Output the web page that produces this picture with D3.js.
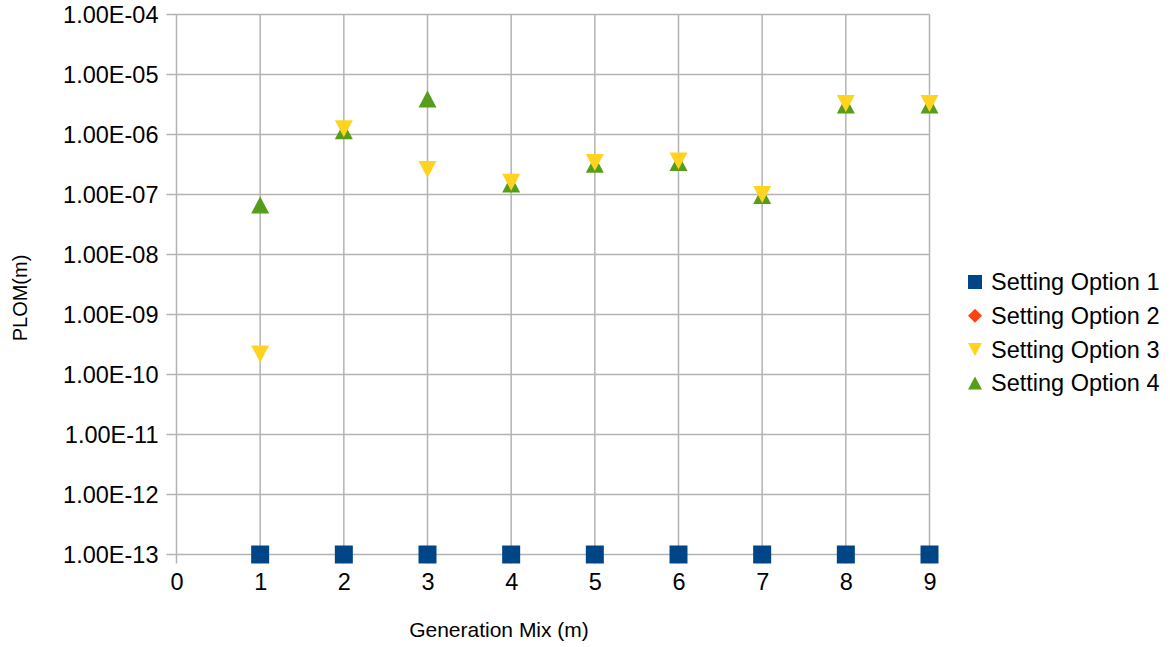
<!DOCTYPE html>
<html><head><meta charset="utf-8">
<script src="https://cdn.jsdelivr.net/npm/d3@7"></script>
<style>body{margin:0;background:#fff}svg{display:block}text{font-family:"Liberation Sans",Arial,sans-serif;fill:#000}</style>
</head><body><svg id="c" width="1170" height="647"></svg>
<script>
const xCats = [1,2,3,4,5,6,7,8,9];
const xTicks = [0,1,2,3,4,5,6,7,8,9];
const yTicks = [1e-4,1e-5,1e-6,1e-7,1e-8,1e-9,1e-10,1e-11,1e-12,1e-13];
const seriesNames = ["Setting Option 1","Setting Option 2","Setting Option 3","Setting Option 4"];
const opt1 = [1e-13,1e-13,1e-13,1e-13,1e-13,1e-13,1e-13,1e-13,1e-13];
const opt2 = [1e-13,1e-13,1e-13,1e-13,1e-13,1e-13,1e-13,1e-13,1e-13];
const opt3 = [2.2e-10,1.25e-6,2.6e-7,1.6e-7,3.4e-7,3.6e-7,1.0e-7,3.3e-6,3.3e-6];
const opt4 = [6.7e-8,1.15e-6,3.9e-6,1.5e-7,3.2e-7,3.4e-7,9.6e-8,3.1e-6,3.1e-6];
const colors = ["#004586","#ff420e","#ffd320","#579d1c"];
const shapes = ["square","diamond","down","up"];

const svg = d3.select("#c");
const L=176.5, R=929.5, T=14.5, B=554.5;
const x = d3.scaleLinear().domain([0,9]).range([L,R]);
const y = d3.scaleLog().domain([1e-13,1e-4]).range([B,T]);

function sym(shape){
  if(shape==="square") return "M-9,-9H9V9H-9Z";
  if(shape==="diamond") return "M0,-8L8,0L0,8L-8,0Z";
  if(shape==="down") return "M-9,-8.5H9L0,8.5Z";
  return "M0,-8.5L9,8.5H-9Z";
}

// grid
const g = svg.append("g");
g.selectAll("line.h").data(yTicks).join("line")
  .attr("x1",L-10).attr("x2",R).attr("y1",d=>y(d)).attr("y2",d=>y(d))
  .attr("stroke","#b3b3b3").attr("stroke-width",1.5);
g.selectAll("line.v").data(xTicks).join("line")
  .attr("x1",d=>x(d)).attr("x2",d=>x(d)).attr("y1",T).attr("y2",B+9)
  .attr("stroke","#b3b3b3").attr("stroke-width",1.5);

// axes labels
const yAxis = d3.axisLeft(y).tickValues(yTicks).tickSize(0).tickPadding(18)
  .tickFormat(d=>"1.00E-"+String(Math.round(-Math.log10(d))).padStart(2,"0"));
const ya = svg.append("g").attr("transform",`translate(${L},0)`).call(yAxis);
ya.select(".domain").remove();
ya.selectAll("text").attr("font-size",23.5).attr("fill","#000").attr("dy","0.35em").attr("font-family","Liberation Sans, Arial, sans-serif");

const xAxis = d3.axisBottom(x).tickValues(xTicks).tickSize(0).tickPadding(19).tickFormat(d3.format("d"));
const xa = svg.append("g").attr("transform",`translate(0,${B})`).call(xAxis);
xa.select(".domain").remove();
xa.selectAll("text").attr("font-size",23.5).attr("fill","#000").attr("font-family","Liberation Sans, Arial, sans-serif");

svg.append("text").attr("x",499).attr("y",637).attr("text-anchor","middle")
  .attr("font-size",21).text("Generation Mix (m)");
svg.append("text").attr("transform","translate(27,298) rotate(-90)").attr("text-anchor","middle")
  .attr("font-size",20).text("PLOM(m)");

// points (drawn in reverse order)
const all = [opt1,opt2,opt3,opt4];
for(let s=3;s>=0;s--){
  svg.append("g").selectAll("path").data(xCats.map((c,i)=>[c,all[s][i]])).join("path")
    .attr("transform",d=>`translate(${x(d[0])},${y(d[1])})`)
    .attr("d",sym(shapes[s])).attr("fill",colors[s]);
}

// legend
const ly0 = 282, ldy = 33.7;
const lg = svg.append("g");
seriesNames.forEach((n,i)=>{
  lg.append("path").attr("transform",`translate(975,${ly0+i*ldy})`)
    .attr("d", shapes[i]==="square" ? "M-7,-7H7V7H-7Z" : shapes[i]==="diamond" ? "M0,-7L7,0L0,7L-7,0Z" : shapes[i]==="down" ? "M-7,-6.5H7L0,6.5Z" : "M0,-6.5L7,6.5H-7Z")
    .attr("fill",colors[i]);
  lg.append("text").attr("x",991).attr("y",ly0+i*ldy).attr("dy","0.35em").attr("font-size",23.5).text(n);
});
</script></body></html>
